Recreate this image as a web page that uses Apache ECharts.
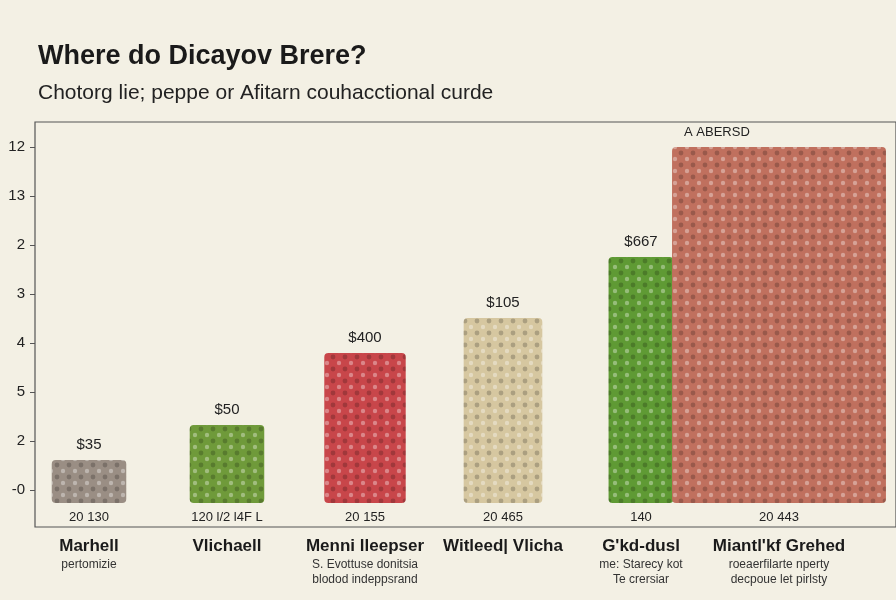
<!DOCTYPE html>
<html><head><meta charset="utf-8">
<script src="https://cdn.jsdelivr.net/npm/echarts@6/dist/echarts.min.js"></script>
<style>html,body{margin:0;background:#f3f0e4}#c{width:896px;height:600px}</style>
</head><body><div id="c"></div>
<script>
const categories = ['Marhell','Vlichaell','Menni lleepser','Witleed| Vlicha','G\'kd-dusl','Miantl\'kf Grehed'];
const subLabels = ['pertomizie','','S. Evottuse donitsia\nblodod indeppsrand','','me: Starecy kot\nTe crersiar','roeaerfilarte nperty\ndecpoue let pirlsty'];
const codes = ['20 130','120 l/2 l4F L','20 155','20 465','140','20 443'];
const priceLabels = ['$35','$50','$400','$105','$667','A ABERSD'];
const barHeights = [43, 78, 150, 185, 246, 356];
const yTickLabels = ['-0','2','5','4','3','2','13','12'];
const barColors = ['#9a8e84','#6f9a3a','#c8464a','#d6c7a0','#5f9a34','#c0705e'];
const barWidthShares = [0.54, 0.54, 0.59, 0.57, 0.47, 1.55];

const chart = echarts.init(document.getElementById('c'));
chart.setOption({
  backgroundColor:'#f3f0e4',
  title:[{text:'Where do Dicayov Brere?',left:33,top:38,textStyle:{fontFamily:'Liberation Sans',fontSize:27,fontWeight:'bold',color:'#1a1a1a'}},
         {text:'Chotorg lie; peppe or Afitarn couhacctional curde',left:33,top:78,textStyle:{fontFamily:'Liberation Sans',fontSize:21,fontWeight:'normal',color:'#222'}}],
  grid:[{left:35,right:-2,top:122,bottom:73,show:true,borderColor:'#555',borderWidth:1.2},
        {left:20,right:48,top:122,bottom:97}],
  xAxis:[{type:'category',gridIndex:0,data:categories,axisLine:{show:false},axisTick:{show:false},axisLabel:{show:false}},
         {type:'category',gridIndex:1,data:categories,axisLine:{show:false},axisTick:{show:false},
          axisLabel:{interval:0,margin:8,color:'#222',fontSize:13,fontFamily:'Liberation Sans',formatter:(v,i)=>codes[i]}},
         {type:'category',gridIndex:1,position:'bottom',offset:24,data:categories,axisLine:{show:false},axisTick:{show:false},
          axisLabel:{interval:0,margin:8,fontFamily:'Liberation Sans',lineHeight:15,
            formatter:(v,i)=>'{n|'+v+'}'+(subLabels[i]?'\n{s|'+subLabels[i]+'}':''),
            rich:{n:{fontSize:17,fontWeight:'bold',color:'#1a1a1a',lineHeight:22},s:{fontSize:12,color:'#333',lineHeight:15}}}}],
  yAxis:[{type:'value',gridIndex:0,min:-0.755,max:7.51,splitLine:{show:false},axisLine:{show:false},
          axisTick:{show:true,length:5,lineStyle:{color:'#555'},customValues:[0,1,2,3,4,5,6,7]},
          axisLabel:{color:'#222',fontSize:15,margin:10,fontFamily:'Liberation Sans',formatter:v=>yTickLabels[Math.round(v)]??'',
          customValues:[0,1,2,3,4,5,6,7]}},
         {type:'value',gridIndex:1,min:0,max:381,show:false}],
  series:[{type:'custom',xAxisIndex:1,yAxisIndex:1,data:barHeights.map((h,i)=>[i,h]),
    renderItem:(p,api)=>{
      const i=api.value(0),top=api.coord([i,api.value(1)]),base=api.coord([i,0]);
      const w=api.size([1,0])[0]*barWidthShares[i];
      const c=barColors[i];
      return {type:'group',children:[
        {type:'rect',shape:{x:top[0]-w/2,y:top[1],width:w,height:base[1]-top[1],r:4},style:{fill:c}},
        {type:'rect',shape:{x:top[0]-w/2,y:top[1],width:w,height:base[1]-top[1],r:4},
         style:{fill:{image:(()=>{const cv=document.createElement('canvas');cv.width=cv.height=12;const g=cv.getContext('2d');g.fillStyle='rgba(255,255,255,0.35)';g.beginPath();g.arc(3,3,2.2,0,7);g.fill();g.fillStyle='rgba(0,0,0,0.2)';g.beginPath();g.arc(9,9,2.4,0,7);g.fill();return cv;})(),repeat:'repeat'}}},
        {type:'text',x:i===5?top[0]-w/2+12:top[0],y:top[1]-8,style:{text:priceLabels[i],align:i===5?'left':'center',verticalAlign:'bottom',fontSize:i===5?13:15,fontFamily:'Liberation Sans',fill:'#222'}}
      ]};
    }}]
});
</script></body></html>
